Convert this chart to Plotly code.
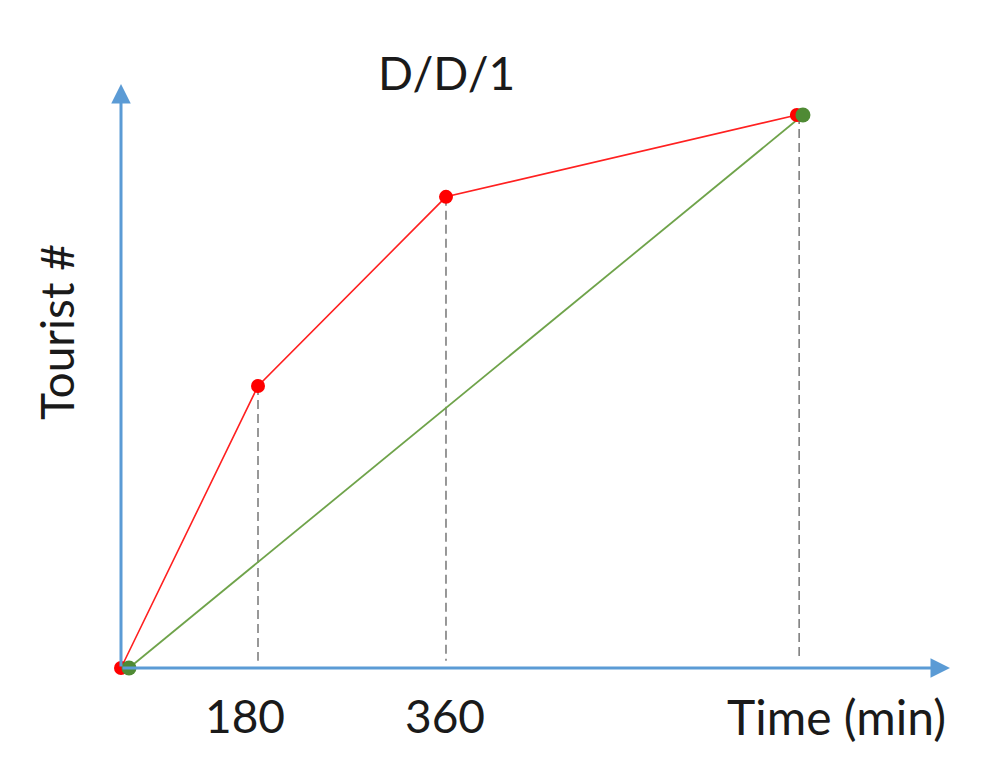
import plotly.graph_objects as go

# ---- data (schematic D/D/1 cumulative curves) ----
arrival_time = [0, 180, 427, 888]      # x positions of arrival-curve points
arrival_count = [0, 51, 85.2, 100]     # cumulative tourists arrived
departure_time = [10.5, 896]           # departure line end points
departure_count = [0, 100]
guide_time = [180, 427, 891]           # dashed guide lines
guide_top = [51, 85.2, 100]
tick_labels = ["180", "360"]
tick_label_pos = [180, 427]
title_text = "D/D/1"
x_title = "Time (min)"
y_title = "Tourist #"

# page has an 8px body margin; work in page pixels and convert
OFF = 8
W, H = 983 - OFF, 773 - OFF
ox, oy = 121 - OFF, 668 - OFF          # origin in figure pixels
sx = (258 - 121) / 180.0
sy = 5.53
x_range = [-ox / sx, (W - ox) / sx]
y_range = [-(H - oy) / sy, oy / sy]


def px(p):
    return (p - OFF) / W


def py(p):
    return 1 - (p - OFF) / H


FONT = "Lato"
FS = 46
TXT = "#1a1a1a"
BLUE = "#5B9BD5"

fig = go.Figure()

for gx, gt in zip(guide_time, guide_top):
    fig.add_trace(go.Scatter(x=[gx, gx], y=[gt, 1.3], mode="lines",
                             line=dict(color="#7f7f7f", width=1.6, dash="9px,5px"),
                             hoverinfo="skip", showlegend=False))

fig.add_trace(go.Scatter(x=departure_time, y=departure_count, mode="lines",
                         line=dict(color="#6FA34A", width=1.8),
                         showlegend=False))
fig.add_trace(go.Scatter(x=arrival_time, y=arrival_count, mode="lines+markers",
                         line=dict(color="#FF2020", width=1.6),
                         marker=dict(color="#FF0000", size=14),
                         showlegend=False))
fig.add_trace(go.Scatter(x=departure_time, y=departure_count, mode="markers",
                         marker=dict(color="#4F8A34", size=15),
                         showlegend=False))

y_top = (668 - 84) / sy
x_end = (950 - 121) / sx
fig.add_annotation(x=0, y=y_top, ax=0, ay=0, xref="x", yref="y", axref="x", ayref="y",
                   showarrow=True, arrowhead=2, arrowsize=1.3, arrowwidth=3,
                   arrowcolor=BLUE, text="")
fig.add_annotation(x=x_end, y=0, ax=0, ay=0, xref="x", yref="y", axref="x", ayref="y",
                   showarrow=True, arrowhead=2, arrowsize=1.3, arrowwidth=3,
                   arrowcolor=BLUE, text="")

for lab, pos, sh in zip(tick_labels, tick_label_pos, [-13, -1]):
    fig.add_annotation(x=pos, y=-(715 - 668) / sy, xref="x", yref="y", text=lab,
                       showarrow=False, xshift=sh, xanchor="center", yanchor="middle",
                       font=dict(family=FONT, size=FS, color=TXT))

fig.add_annotation(x=px(836), y=py(716), xref="paper", yref="paper", text=x_title,
                   showarrow=False, xanchor="center", yanchor="middle",
                   font=dict(family=FONT, size=48, color=TXT))
fig.add_annotation(x=px(446), y=py(72), xref="paper", yref="paper", text=title_text,
                   showarrow=False, xanchor="center", yanchor="middle",
                   font=dict(family=FONT, size=FS, color=TXT))
fig.add_annotation(x=px(56), y=py(332), xref="paper", yref="paper", text=y_title,
                   showarrow=False, textangle=-90, xanchor="center", yanchor="middle",
                   font=dict(family=FONT, size=FS, color=TXT))

fig.update_layout(
    width=W, height=H,
    margin=dict(l=0, r=0, t=0, b=0),
    paper_bgcolor="white", plot_bgcolor="white",
    xaxis=dict(range=x_range, visible=False, fixedrange=True),
    yaxis=dict(range=y_range, visible=False, fixedrange=True),
    showlegend=False,
)

fig.write_html("out.html")
